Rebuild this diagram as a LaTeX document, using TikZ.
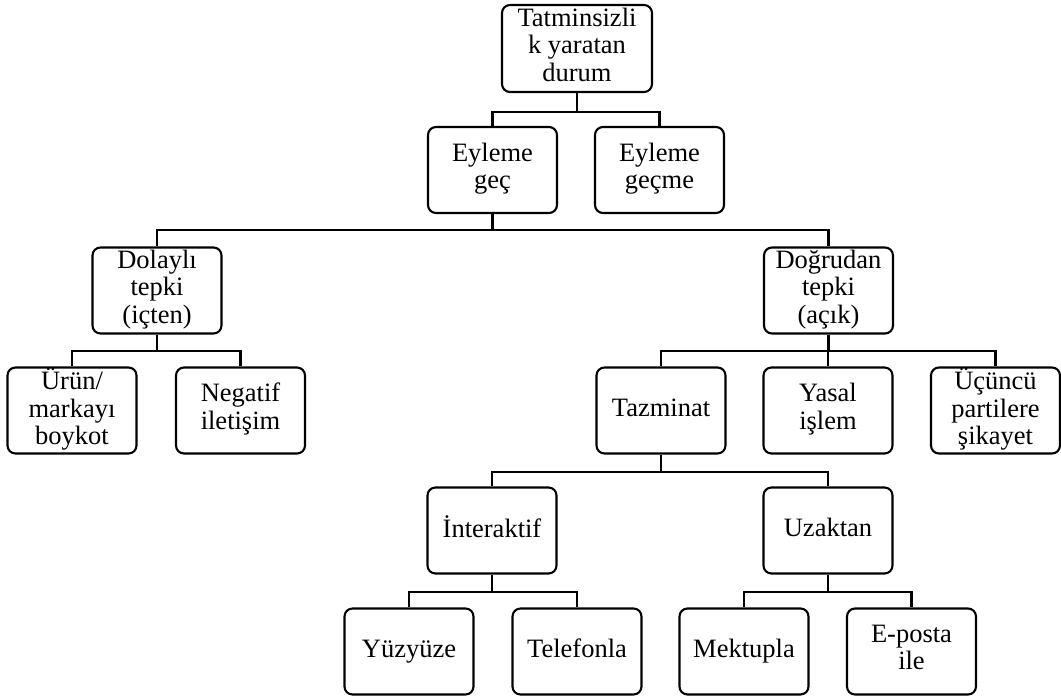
\documentclass[tikz,border=0pt]{standalone}
\usepackage{fontspec}
\setmainfont{Liberation Serif}
\begin{document}
\begin{tikzpicture}[x=1pt,y=-1pt,
  box/.style={draw,line width=2.1pt,rounded corners=8pt,minimum width=129pt,
    minimum height=86pt,inner sep=0pt,align=center,
    font=\fontsize{26.5}{27.5}\selectfont,
    execute at begin node=\strut,execute at end node=\strut},
  conn/.style={line width=2.1pt}]
\useasboundingbox (0,0) rectangle (1061,698);

% level rails for the elbow connectors
\coordinate (l1) at (0,112);
\coordinate (l2) at (0,230);
\coordinate (l3) at (0,351);
\coordinate (l4) at (0,472);
\coordinate (l5) at (0,592);

% boxes
\node[box,minimum width=150pt,minimum height=87pt] (t) at (577,48.5) {Tatminsizli\\k yaratan\\durum};
\node[box] (eg)  at (492.5,170) {Eyleme\\geç};
\node[box] (egm) at (659.5,170) {Eyleme\\geçme};
\node[box] (dol) at (157,290.5) {Dolaylı\\tepki\\(içten)};
\node[box] (dog) at (828.5,290.5) {Doğrudan\\tepki\\(açık)};
\node[box] (urun) at (72,410.5) {Ürün/\\markayı\\boykot};
\node[box] (neg)  at (240.5,410.5) {Negatif\\iletişim};
\node[box] (taz)  at (661,410.5) {Tazminat};
\node[box] (yas)  at (828,410.5) {Yasal\\işlem};
\node[box] (ucu)  at (995.5,410.5) {Üçüncü\\partilere\\şikayet};
\node[box] (int)  at (492,530.5) {İnteraktif};
\node[box] (uza)  at (828,530.5) {Uzaktan};
\node[box] (yuz)  at (409,651.5) {Yüzyüze};
\node[box] (tel)  at (577,651.5) {Telefonla};
\node[box] (mek)  at (744,651.5) {Mektupla};
\node[box] (epo)  at (911.5,651.5) {E-posta\\ile};

% connectors
\foreach \p/\c/\l in {t/eg/l1, t/egm/l1,
                      eg/dol/l2, eg/dog/l2,
                      dol/urun/l3, dol/neg/l3,
                      dog/taz/l3, dog/yas/l3, dog/ucu/l3,
                      taz/int/l4, taz/uza/l4,
                      int/yuz/l5, int/tel/l5,
                      uza/mek/l5, uza/epo/l5}
  \draw[conn] (\p.south) -- (\p.south |- \l) -| (\c.north);
\end{tikzpicture}
\end{document}
